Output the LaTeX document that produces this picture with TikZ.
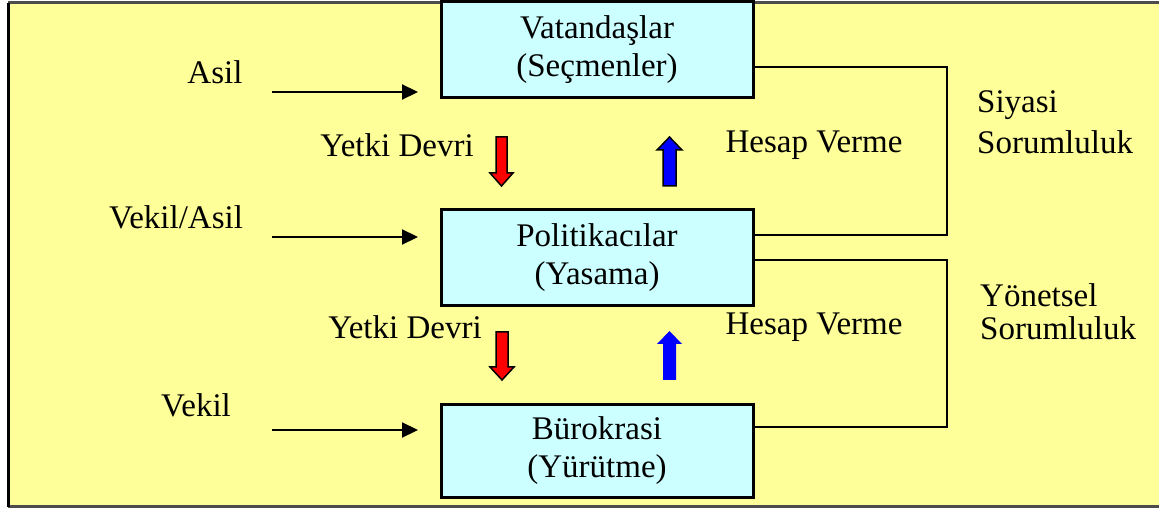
\documentclass[tikz,border=0pt]{standalone}
\usepackage{fontspec}
\setmainfont{Liberation Serif}
\usetikzlibrary{arrows.meta}
\definecolor{bgyellow}{HTML}{FFFF99}
\definecolor{boxcyan}{HTML}{CCFFFF}
\definecolor{arrred}{HTML}{FF0000}
\definecolor{arrblue}{HTML}{0000FF}
\begin{document}
\begin{tikzpicture}[x=1pt,y=-1pt,
  every node/.style={font=\fontsize{33}{38}\selectfont},
  entity/.style={draw=black,line width=3pt,fill=boxcyan,minimum width=312pt,align=center,inner sep=0pt},
  lbl/.style={inner sep=0pt},
  feed/.style={line width=2.2pt,-{Triangle[length=16pt,width=15pt]}},
  resp/.style={line width=2pt},
  downarr/.style={fill=arrred,draw=black,line width=1.5pt,line join=miter},
  uparr/.style={fill=arrblue,draw=black,line width=1.5pt,line join=miter}]
\useasboundingbox (0,0) rectangle (1159,510);
\fill[black!70] (8,1) rectangle (1170,508);
\fill[bgyellow] (10,4) rectangle (1170,505);
\draw[line width=3pt] (8.5,3) -- (8.5,507);

\node[entity,minimum height=96pt] (top) at (597,50) {Vatandaşlar\\(Seçmenler)};
\node[entity,minimum height=96pt] (mid) at (597,258) {Politikacılar\\(Yasama)};
\node[entity,minimum height=93pt] (bot) at (597,450.5) {Bürokrasi\\(Yürütme)};

\node[lbl] (asil) at (215,72) {Asil};
\node[lbl] (vekilasil) at (176,217) {Vekil/Asil};
\node[lbl] (vekil) at (196,405) {Vekil};

\coordinate (a1s) at (272,92);  \coordinate (a1e) at (418,92);
\coordinate (a2s) at (272,237); \coordinate (a2e) at (418,237);
\coordinate (a3s) at (272,430); \coordinate (a3e) at (418,430);
\draw[feed] (a1s) -- (a1e);
\draw[feed] (a2s) -- (a2e);
\draw[feed] (a3s) -- (a3e);

\node[lbl] (yd1) at (397,145) {Yetki Devri};
\node[lbl] (yd2) at (405,327) {Yetki Devri};
\node[lbl] (hv1) at (814,145) {Hesap Verme};
\node[lbl] (hv2) at (814,327) {Hesap Verme};

\node[lbl,anchor=west] (siy1) at (977,105) {Siyasi};
\node[lbl,anchor=west] (siy2) at (977,142) {Sorumluluk};
\node[lbl,anchor=west] (yon1) at (980,295) {Yönetsel};
\node[lbl,anchor=west] (yon2) at (980,328) {Sorumluluk};

% block arrows
\draw[downarr] (496,137) -- (507,137) -- (507,173) -- (513,173) -- (501.5,186) -- (490,173) -- (496,173) -- cycle;
\draw[downarr] (496,332) -- (508,332) -- (508,367) -- (514,367) -- (502,380) -- (490,367) -- (496,367) -- cycle;
\draw[uparr] (663,186) -- (676,186) -- (676,150) -- (682,150) -- (669.5,137) -- (657,150) -- (663,150) -- cycle;
\fill[arrblue] (663,380) -- (676,380) -- (676,344) -- (682,344) -- (669.5,331) -- (657,344) -- (663,344) -- cycle;

% responsibility connectors
\coordinate (r1) at (947,235);
\coordinate (r2) at (947,427);
\draw[resp] (top.east |- 0,67) -| (r1) -- (mid.east |- r1);
\draw[resp] (mid.east |- 0,260) -| (r2) -- (bot.east |- r2);
\end{tikzpicture}
\end{document}
